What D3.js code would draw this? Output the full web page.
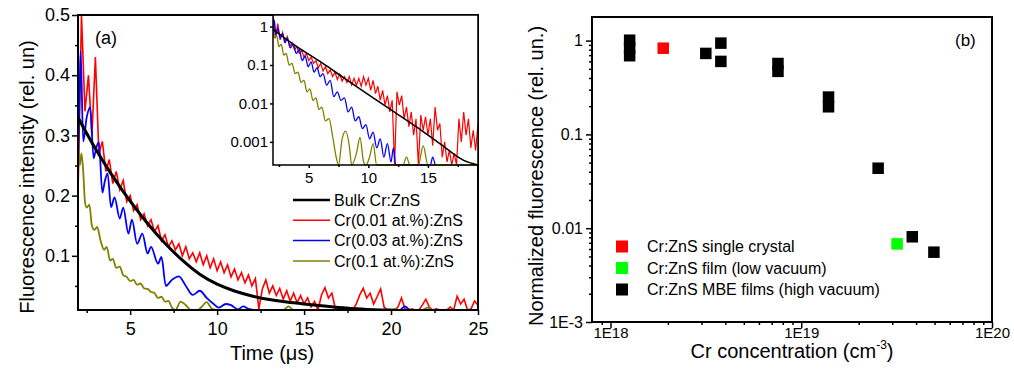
<!DOCTYPE html>
<html>
<head>
<meta charset="utf-8">
<script src="https://cdn.jsdelivr.net/npm/d3@7"></script>
<style>
  body { margin: 0; background: #fff; }
  svg { display: block; }
</style>
</head>
<body>
<svg id="chart" width="1014" height="370"></svg>
<script>
// ---------- panel (a): decay curves, linear scale ----------
const RED_T0 = 2, RED_DT = 0.2
const redMain = [
  0.20, 0.50, 0.34, 0.40, 0.30, 0.43, 0.27, 0.29, 0.24, 0.26,
  0.22, 0.24, 0.21, 0.225, 0.19, 0.20, 0.175, 0.185, 0.16, 0.17,
  0.15, 0.16, 0.14, 0.15, 0.125, 0.135, 0.115, 0.125, 0.11, 0.12,
  0.10, 0.115, 0.095, 0.105, 0.09, 0.105, 0.085, 0.10, 0.08, 0.095,
  0.075, 0.09, 0.072, 0.085, 0.065, 0.078, 0.06, 0.072, 0.055, 0.068,
  0.05, 0.062, 0.012, 0.045, 0.06, 0.038, 0.05, 0.034, 0.046, 0.028,
  0.042, 0.025, 0.038, 0.022, 0.034, 0.02, 0.03, 0.015, 0.024, 0.01,
  0.035, 0.047, 0.03, 0.038, 0.012, 0.006, 0.015, 0.005, 0.012, 0.006,
  0.02, 0.035, 0.046, 0.03, 0.038, 0.02, 0.032, 0.045, 0.015, 0.005,
  0.008, 0.005, 0.015, 0.03, 0.012, 0.005, 0.012, 0.004, 0.01, 0.018,
  0.028, 0.015, 0.005, 0.012, 0.004, 0.01, 0.005, 0.015, 0.008, 0.033,
  0.02, 0.028, 0.008, 0.012, 0.025, 0.018
]
const blueMainT = [2.0, 2.1, 2.15, 2.3, 2.5, 2.7, 2.9, 3.05, 3.2, 3.4, 3.55, 3.7, 3.9, 4.1, 4.4, 4.6,
  4.9, 5.1, 5.4, 5.7, 6.0, 6.2, 6.6, 6.8, 7.05, 7.4, 7.8, 8.2, 8.6, 9.0, 9.4, 9.8, 10.1, 10.5,
  10.8, 11.2, 11.5, 11.8, 12.2, 12.6, 13.0, 13.5, 14.0, 14.5, 15.5, 16.0, 16.5, 18.0, 20.5, 20.8, 21.1, 25.0]
const blueMainV = [0.25, 0.38, 0.44, 0.29, 0.33, 0.347, 0.262, 0.28, 0.289, 0.205, 0.225, 0.237, 0.181, 0.197, 0.162, 0.18,
  0.137, 0.16, 0.12, 0.137, 0.104, 0.115, 0.087, 0.098, 0.05, 0.06, 0.066, 0.05, 0.035, 0.042, 0.03, 0.02, 0.014, 0.02,
  0.018, 0.011, 0.016, 0.012, 0.008, 0.01, 0.005, 0.008, 0.004, 0.006, 0.004, 0.009, 0.004, 0.005, 0.006, 0.016, 0.006, 0.005]
const oliveMainT = [2.0, 2.1, 2.2, 2.3, 2.4, 2.5, 2.65, 2.8, 2.95, 3.1, 3.3, 3.5, 3.65, 3.85, 4.0, 4.2, 4.4, 4.6,
  4.8, 5.0, 5.2, 5.4, 5.6, 5.8, 6.0, 6.2, 6.4, 6.6, 6.8, 7.0, 7.2, 7.4, 7.6, 7.9, 8.2, 8.5, 8.9, 9.1, 9.4,
  9.7, 10.0, 13.8, 14.1, 14.4, 19.9, 20.2, 20.5, 21.8, 22.1, 22.4, 25.0]
const oliveMainV = [0.30, 0.25, 0.27, 0.24, 0.19, 0.18, 0.185, 0.15, 0.143, 0.148, 0.125, 0.11, 0.115, 0.092, 0.095, 0.08, 0.082, 0.068,
  0.065, 0.058, 0.06, 0.052, 0.054, 0.046, 0.045, 0.04, 0.038, 0.03, 0.032, 0.024, 0.025, 0.014, 0.005, 0.024, 0.018, 0.004, 0.004, 0.015, 0.023,
  0.012, 0.003, 0.004, 0.016, 0.004, 0.004, 0.012, 0.004, 0.004, 0.014, 0.004, 0.004]
const bulkMainT = [2, 3, 4, 5, 6, 7, 8, 9, 10, 11, 12, 13, 14, 15, 16, 17, 18, 19, 20]
const bulkMainV = [0.33, 0.277, 0.231, 0.19, 0.153, 0.12, 0.092, 0.068, 0.052, 0.041, 0.033, 0.027, 0.023, 0.02, 0.017, 0.014, 0.012, 0.0095, 0.008]

// ---------- panel (a) inset: log scale ----------
const redInset = [
  1.9, 0.5, 1.2, 0.45, 0.7, 0.4, 0.55, 0.3, 0.38, 0.25,
  0.3, 0.2, 0.24, 0.16, 0.2, 0.13, 0.16, 0.11, 0.13, 0.085,
  0.11, 0.07, 0.09, 0.06, 0.075, 0.05, 0.065, 0.042, 0.058, 0.038,
  0.05, 0.035, 0.05, 0.03, 0.045, 0.03, 0.045, 0.028, 0.05, 0.03,
  0.045, 0.022, 0.04, 0.018, 0.028, 0.012, 0.022, 0.009, 0.016, 0.006,
  0.012, 0.0002, 0.02, 0.009, 0.016, 0.004, 0.008, 0.0025, 0.006, 0.0015,
  0.004, 0.0002, 0.005, 0.002, 0.0045, 0.0015, 0.004, 0.0008, 0.008, 0.002,
  0.003, 0.0004, 0.001, 0.0003, 0.0006, 0.0002, 0.0005, 0.0002, 0.004, 0.001,
  0.006, 0.0015, 0.004, 0.0007, 0.002, 0.0006, 0.003
]
const blueInsetT = [2.0, 2.1, 2.25, 2.4, 2.6, 2.8, 3.0, 3.2, 3.45, 3.7, 3.95, 4.2, 4.45, 4.7, 4.95, 5.2, 5.45, 5.7,
  5.95, 6.2, 6.5, 6.8, 7.1, 7.4, 7.7, 8.0, 8.3, 8.6, 8.9, 9.2, 9.5, 9.8, 10.1, 10.4, 10.7, 11.0, 11.3, 11.6,
  11.9, 12.1, 12.3, 15.2, 15.4, 15.6]
const blueInsetV = [0.5, 1.5, 0.6, 0.9, 0.5, 0.65, 0.38, 0.5, 0.28, 0.35, 0.2, 0.25, 0.13, 0.17, 0.09, 0.12, 0.065, 0.085,
  0.05, 0.06, 0.03, 0.04, 0.015, 0.02, 0.012, 0.014, 0.006, 0.008, 0.0035, 0.0045, 0.0022, 0.0028, 0.0012, 0.0018, 0.0007, 0.0012, 0.0004, 0.0009,
  0.0003, 0.0007, 0.0002, 0.0002, 0.0004, 0.0002]
const oliveInsetT = [2.0, 2.15, 2.3, 2.5, 2.7, 2.9, 3.1, 3.35, 3.6, 3.85, 4.1, 4.35, 4.6, 4.85, 5.1, 5.35, 5.6, 5.85,
  6.1, 6.4, 6.7, 7.0, 7.3, 7.5, 7.8, 8.1, 8.4, 8.6, 9.0, 9.3, 9.6, 9.8, 10.1, 10.4, 10.7, 12.9, 13.2, 13.5,
  14.2, 14.6, 15.0, 19.2]
const oliveInsetV = [0.9, 0.5, 0.6, 0.3, 0.35, 0.18, 0.2, 0.1, 0.11, 0.06, 0.065, 0.035, 0.04, 0.02, 0.024, 0.012, 0.014, 0.007,
  0.008, 0.0035, 0.004, 0.0014, 0.0004, 0.0002, 0.0012, 0.0019, 0.0008, 0.0002, 0.0005, 0.0013, 0.0003, 0.0002, 0.0004, 0.0009, 0.0002, 0.0002, 0.0004, 0.0002,
  0.0002, 0.0008, 0.0002, 0.0002]
const bulkInsetT = [2, 4, 6, 8, 10, 12, 14, 16, 18, 19.2]
const bulkInsetV = [0.85, 0.3, 0.12, 0.045, 0.017, 0.0065, 0.0025, 0.0009, 0.00033, 0.00018]

const legendA = ['Bulk Cr:ZnS', 'Cr(0.01 at.%):ZnS', 'Cr(0.03 at.%):ZnS', 'Cr(0.1 at.%):ZnS']

// ---------- panel (b): normalized fluorescence vs concentration ----------
const crystalConc = [1.89e18]
const crystalVal = [0.83]
const lowVacConc = [3.18e19]
const lowVacVal = [0.0068]
const mbeConc = [1.26e18, 1.26e18, 1.26e18, 3.16e18, 3.79e18, 3.79e18, 7.55e18, 7.55e18, 1.39e19, 1.39e19, 2.53e19, 3.82e19, 4.96e19]
const mbeVal = [1.01, 0.84, 0.69, 0.73, 0.94, 0.60, 0.57, 0.47, 0.25, 0.197, 0.0436, 0.0081, 0.00555]
const legendB = ['Cr:ZnS single crystal', 'Cr:ZnS film (low vacuum)', 'Cr:ZnS MBE films (high vacuum)']

const FONT = '"Liberation Sans", Arial, sans-serif'
const RED = '#ff0000', BLUE = '#0000ff', OLIVE = '#808000', GREEN = '#00ff00'

const svg = d3.select('#chart').attr('font-family', FONT)

let zip = function (ts, vs) { return ts.map((t, i) => [t, vs[i]]) }
let styleAxis = function (g, size) {
  g.attr('font-family', FONT).attr('font-size', size)
  g.select('.domain').remove()
  g.selectAll('.tick line').attr('stroke', '#000').attr('stroke-width', 1.5)
  g.selectAll('.tick text').attr('fill', '#000')
}

// ===== panel (a) =====
const xA = d3.scaleLinear().domain([2, 25]).range([78, 478])
const yA = d3.scaleLinear().domain([0.01, 0.5]).range([310, 15]).clamp(true)
const pa = svg.append('g')
pa.append('defs').append('clipPath').attr('id', 'clipA')
  .append('rect').attr('x', 78).attr('y', 14).attr('width', 400).attr('height', 297)

const lineA = d3.line().x(d => xA(d[0])).y(d => yA(d[1]))
const smoothA = d3.line().x(d => xA(d[0])).y(d => yA(d[1])).curve(d3.curveMonotoneX)
const chartA = pa.append('g').attr('clip-path', 'url(#clipA)')
const redData = redMain.map((v, i) => [RED_T0 + i * RED_DT, v])
chartA.append('path').attr('d', lineA(redData)).attr('fill', 'none').attr('stroke', RED).attr('stroke-width', 1.6)
chartA.append('path').attr('d', smoothA(zip(blueMainT, blueMainV))).attr('fill', 'none').attr('stroke', BLUE).attr('stroke-width', 1.8)
chartA.append('path').attr('d', smoothA(zip(oliveMainT, oliveMainV))).attr('fill', 'none').attr('stroke', OLIVE).attr('stroke-width', 1.8)
chartA.append('path').attr('d', d3.line().x(d => xA(d[0])).y(d => yA(d[1])).curve(d3.curveBasis)(zip(bulkMainT, bulkMainV)))
  .attr('fill', 'none').attr('stroke', '#000').attr('stroke-width', 3)

// axes (a)
let gx = pa.append('g').attr('transform', 'translate(0,310)')
  .call(d3.axisBottom(xA).tickValues([5, 10, 15, 20, 25]).tickSize(5).tickPadding(7).tickSizeOuter(0))
styleAxis(gx, 18)
let gxm = pa.append('g').attr('transform', 'translate(0,310)')
  .call(d3.axisBottom(xA).tickValues([2.5, 7.5, 12.5, 17.5, 22.5]).tickSize(3).tickFormat(''))
styleAxis(gxm, 18)
let gy = pa.append('g').attr('transform', 'translate(78,0)')
  .call(d3.axisLeft(yA).tickValues([0.1, 0.2, 0.3, 0.4, 0.5]).tickSize(6).tickPadding(2).tickFormat(d3.format('.1f')))
styleAxis(gy, 18)
let gym = pa.append('g').attr('transform', 'translate(78,0)')
  .call(d3.axisLeft(yA).tickValues([0.05, 0.15, 0.25, 0.35, 0.45]).tickSize(3).tickFormat(''))
styleAxis(gym, 18)
pa.append('rect').attr('x', 78).attr('y', 15).attr('width', 400).attr('height', 295)
  .attr('fill', 'none').attr('stroke', '#000').attr('stroke-width', 2)

pa.append('text').attr('x', 95).attr('y', 44).attr('font-size', 18).text('(a)')
pa.append('text').attr('transform', 'translate(34,177) rotate(-90)').attr('text-anchor', 'middle')
  .attr('font-size', 20).text('Fluorescence intensity (rel. un)')
pa.append('text').attr('x', 272).attr('y', 360).attr('text-anchor', 'middle')
  .attr('font-size', 20).text('Time (μs)')

// inset
const xI = d3.scaleLinear().domain([2, 19.2]).range([273, 478])
const yI = d3.scaleLog().domain([2.5e-4, 2]).range([165, 15]).clamp(true)
const ins = pa.append('g')
ins.append('rect').attr('x', 273).attr('y', 15).attr('width', 205).attr('height', 150).attr('fill', '#fff')
ins.append('defs').append('clipPath').attr('id', 'clipI')
  .append('rect').attr('x', 273).attr('y', 14).attr('width', 205).attr('height', 152)
const lineI = d3.line().x(d => xI(d[0])).y(d => yI(d[1]))
const smoothI = d3.line().x(d => xI(d[0])).y(d => yI(d[1])).curve(d3.curveMonotoneX)
const chartI = ins.append('g').attr('clip-path', 'url(#clipI)')
const redInsetData = redInset.map((v, i) => [RED_T0 + i * RED_DT, v])
chartI.append('path').attr('d', lineI(redInsetData)).attr('fill', 'none').attr('stroke', RED).attr('stroke-width', 1.2)
chartI.append('path').attr('d', smoothI(zip(blueInsetT, blueInsetV))).attr('fill', 'none').attr('stroke', BLUE).attr('stroke-width', 1.3)
chartI.append('path').attr('d', smoothI(zip(oliveInsetT, oliveInsetV))).attr('fill', 'none').attr('stroke', OLIVE).attr('stroke-width', 1.3)
chartI.append('path').attr('d', smoothI(zip(bulkInsetT, bulkInsetV))).attr('fill', 'none').attr('stroke', '#000').attr('stroke-width', 1.6)

let ix = ins.append('g').attr('transform', 'translate(0,165)')
  .call(d3.axisBottom(xI).tickValues([5, 10, 15]).tickSize(3).tickPadding(4).tickSizeOuter(0))
styleAxis(ix, 15)
let ixm = ins.append('g').attr('transform', 'translate(0,165)')
  .call(d3.axisBottom(xI).tickValues([2.5, 7.5, 12.5, 17.5]).tickSize(2).tickFormat(''))
styleAxis(ixm, 15)
let iy = ins.append('g').attr('transform', 'translate(273,0)')
  .call(d3.axisLeft(yI).tickValues([1, 0.1, 0.01, 0.001]).tickSize(3).tickPadding(2).tickFormat(d => String(d)))
styleAxis(iy, 15)
ins.append('rect').attr('x', 273).attr('y', 15).attr('width', 205).attr('height', 150)
  .attr('fill', 'none').attr('stroke', '#000').attr('stroke-width', 1.5)

// legend (a)
const legColors = ['#000', RED, BLUE, OLIVE]
const legWidths = [2.5, 1.5, 1.5, 1.5]
const legA = pa.append('g')
legendA.forEach((name, i) => {
  const y = 200 + i * 20.3
  legA.append('line').attr('x1', 293).attr('x2', 330).attr('y1', y).attr('y2', y)
    .attr('stroke', legColors[i]).attr('stroke-width', legWidths[i])
  legA.append('text').attr('x', 334).attr('y', y + 5.6).attr('font-size', 16).text(name)
})

// ===== panel (b) =====
const xB = d3.scaleLog().domain([8e17, 1e20]).range([592, 992])
const yB = d3.scaleLog().domain([1e-3, 1.785]).range([322, 17])
const pb = svg.append('g')
const SQ = 11.5

const groupsB = [
  { c: mbeConc, v: mbeVal, color: '#000' },
  { c: crystalConc, v: crystalVal, color: RED },
  { c: lowVacConc, v: lowVacVal, color: GREEN }
]
groupsB.forEach(g => {
  pb.append('g').selectAll('rect').data(zip(g.c, g.v)).join('rect')
    .attr('x', d => xB(d[0]) - SQ / 2).attr('y', d => yB(d[1]) - SQ / 2)
    .attr('width', SQ).attr('height', SQ).attr('fill', g.color)
})

const minorX = [9e17]
;[1e18, 1e19].forEach(p => { for (let k = 2; k <= 9; k++) minorX.push(k * p) })
const minorY = []
;[1e-3, 1e-2, 1e-1].forEach(p => { for (let k = 2; k <= 9; k++) minorY.push(k * p) })

let bx = pb.append('g').attr('transform', 'translate(0,322)')
  .call(d3.axisBottom(xB).tickValues([1e18, 1e19, 1e20]).tickSize(6).tickPadding(0).tickSizeOuter(0)
    .tickFormat(d => '1E' + Math.round(Math.log10(d))))
styleAxis(bx, 15)
bx.selectAll('.tick text').attr('y', 5)
let bxm = pb.append('g').attr('transform', 'translate(0,322)')
  .call(d3.axisBottom(xB).tickValues(minorX).tickSize(3).tickFormat(''))
styleAxis(bxm, 15)
const yLabels = { 1: '1', 0.1: '0.1', 0.01: '0.01', 0.001: '1E-3' }
let by = pb.append('g').attr('transform', 'translate(592,0)')
  .call(d3.axisLeft(yB).tickValues([1, 0.1, 0.01, 0.001]).tickSize(6).tickPadding(3).tickFormat(d => yLabels[d]))
styleAxis(by, 16)
let bym = pb.append('g').attr('transform', 'translate(592,0)')
  .call(d3.axisLeft(yB).tickValues(minorY).tickSize(3).tickFormat(''))
styleAxis(bym, 16)
pb.append('rect').attr('x', 592).attr('y', 17).attr('width', 400).attr('height', 305)
  .attr('fill', 'none').attr('stroke', '#000').attr('stroke-width', 2)

pb.append('text').attr('x', 955).attr('y', 46).attr('font-size', 17).text('(b)')
pb.append('text').attr('transform', 'translate(543,176) rotate(-90)').attr('text-anchor', 'middle')
  .attr('font-size', 20).text('Normalized fluorescence (rel. un.)')
const xt = pb.append('text').attr('x', 792).attr('y', 358).attr('text-anchor', 'middle').attr('font-size', 20)
xt.append('tspan').text('Cr concentration (cm')
xt.append('tspan').attr('font-size', 12).attr('dy', -9).text('-3')
xt.append('tspan').attr('dy', 9).text(')')

// legend (b)
const legBColors = [RED, GREEN, '#000']
legendB.forEach((name, i) => {
  const y = 246.5 + i * 21.5
  pb.append('rect').attr('x', 616).attr('y', y - 6).attr('width', 12).attr('height', 12).attr('fill', legBColors[i])
  pb.append('text').attr('x', 647).attr('y', y + 5.5).attr('font-size', 16).text(name)
})
</script>
</body>
</html>
